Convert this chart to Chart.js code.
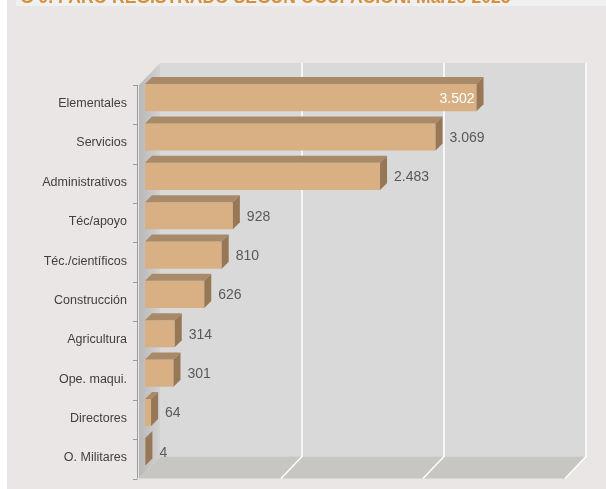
<!DOCTYPE html>
<html>
<head>
<meta charset="utf-8">
<script src="https://cdn.jsdelivr.net/npm/chart.js@4.4.1/dist/chart.umd.min.js"></script>
<style>
  html, body { margin: 0; padding: 0; background: #ffffff; }
  canvas { display: block; }
</style>
</head>
<body>
<canvas id="graficaOcupacion" width="606" height="489"></canvas>
<script>
const titulo = 'G 9. PARO REGISTRADO SEGÚN OCUPACIÓN. Marzo 2025';
const ocupaciones = ['Elementales', 'Servicios', 'Administrativos', 'Téc/apoyo', 'Téc./científicos',
  'Construcción', 'Agricultura', 'Ope. maqui.', 'Directores', 'O. Militares'];
const parados = [3502, 3069, 2483, 928, 810, 626, 314, 301, 64, 4];
const marcasEje = [0, 1500, 3000, 4500];

// profundidad del efecto 3D
const FRENTE = { dx: -6, dy: 7 };
const FONDO = { dx: 15, dy: -15 };
const PROF = 7;

function formatoES(v) {
  return v.toLocaleString('de-DE');
}

const fondo3d = {
  id: 'fondo3d',
  beforeDraw(chart) {
    const { ctx, width, height } = chart;
    ctx.save();
    ctx.fillStyle = '#ffffff';
    ctx.fillRect(0, 0, width, height);
    ctx.fillStyle = '#ebe6e6';
    ctx.fillRect(7, 0, width - 7, height);
    // franja del titulo (cortada arriba)
    ctx.fillStyle = '#f0f0f0';
    ctx.fillRect(16, 0, width - 16, 6);
    ctx.fillStyle = '#d4913c';
    ctx.font = 'bold 17.5px "Liberation Sans", Arial, sans-serif';
    ctx.textAlign = 'left';
    ctx.textBaseline = 'alphabetic';
    ctx.fillText(titulo, 20, 2.5, 492);
    ctx.restore();
  },
  beforeDatasetsDraw(chart) {
    const { ctx, chartArea: ca, scales: { x } } = chart;
    const fL = ca.left + FRENTE.dx, fR = ca.right + FRENTE.dx;
    const fT = ca.top + FRENTE.dy, fB = ca.bottom + FRENTE.dy;
    const bL = ca.left + FONDO.dx, bR = ca.right + FONDO.dx;
    const bT = ca.top + FONDO.dy, bB = ca.bottom + FONDO.dy;
    ctx.save();
    // pared del fondo
    ctx.fillStyle = '#d9d9d9';
    ctx.fillRect(bL, bT, bR - bL, bB - bT);
    // pared izquierda
    const g = ctx.createLinearGradient(fL, 0, bL, 0);
    g.addColorStop(0, '#b8b8b8');
    g.addColorStop(1, '#d2d2d2');
    ctx.fillStyle = g;
    ctx.beginPath();
    ctx.moveTo(fL, fT); ctx.lineTo(bL, bT); ctx.lineTo(bL, bB); ctx.lineTo(fL, fB);
    ctx.closePath(); ctx.fill();
    // suelo
    ctx.fillStyle = '#c8c6c3';
    ctx.beginPath();
    ctx.moveTo(fL, fB); ctx.lineTo(fR, fB); ctx.lineTo(bR, bB); ctx.lineTo(bL, bB);
    ctx.closePath(); ctx.fill();
    // lineas de division
    ctx.strokeStyle = '#ffffff';
    ctx.lineWidth = 1.5;
    marcasEje.slice(1).forEach(v => {
      const px = x.getPixelForValue(v);
      ctx.beginPath();
      ctx.moveTo(px + FONDO.dx, bT);
      ctx.lineTo(px + FONDO.dx, bB);
      ctx.lineTo(px + FRENTE.dx, fB);
      ctx.stroke();
    });
    // eje de categorias
    ctx.strokeStyle = '#9a9a9a';
    ctx.lineWidth = 1;
    ctx.beginPath();
    ctx.moveTo(fL - 1.5, fT); ctx.lineTo(fL - 1.5, fB);
    const paso = (fB - fT) / ocupaciones.length;
    for (let i = 0; i <= ocupaciones.length; i++) {
      const py = Math.round(fT + paso * i) + 0.5;
      ctx.moveTo(fL - 6, py); ctx.lineTo(fL - 1.5, py);
    }
    ctx.stroke();
    ctx.restore();
  },
  afterDatasetsDraw(chart) {
    const { ctx } = chart;
    const meta = chart.getDatasetMeta(0);
    ctx.save();
    meta.data.forEach((bar, i) => {
      const { x: x1, y: cy, base: x0, height: h } = bar.getProps(['x', 'y', 'base', 'height'], true);
      const yT = cy - h / 2, yB = cy + h / 2;
      // cara superior
      ctx.fillStyle = '#a88a68';
      ctx.beginPath();
      ctx.moveTo(x0, yT); ctx.lineTo(x1, yT); ctx.lineTo(x1 + PROF, yT - PROF); ctx.lineTo(x0 + PROF, yT - PROF);
      ctx.closePath(); ctx.fill();
      // cara lateral
      ctx.fillStyle = '#977755';
      ctx.beginPath();
      ctx.moveTo(x1, yT); ctx.lineTo(x1 + PROF, yT - PROF); ctx.lineTo(x1 + PROF, yB - PROF); ctx.lineTo(x1, yB);
      ctx.closePath(); ctx.fill();
      // etiqueta de valor
      ctx.font = '14px "Liberation Sans", Arial, sans-serif';
      ctx.textBaseline = 'middle';
      if (i === 0) {
        ctx.fillStyle = '#ffffff';
        ctx.textAlign = 'right';
        ctx.fillText(formatoES(parados[i]), x1 - 2, cy + 1);
      } else {
        ctx.fillStyle = '#595959';
        ctx.textAlign = 'left';
        ctx.fillText(formatoES(parados[i]), x1 + PROF + 7, cy + 1);
      }
    });
    ctx.restore();
  }
};

new Chart(document.getElementById('graficaOcupacion').getContext('2d'), {
  type: 'bar',
  data: {
    labels: ocupaciones,
    datasets: [{
      label: 'Parados',
      data: parados,
      backgroundColor: '#d8b084',
      borderWidth: 0,
      barPercentage: 0.69,
      categoryPercentage: 1
    }]
  },
  options: {
    indexAxis: 'y',
    responsive: false,
    animation: false,
    layout: { padding: { top: 78, right: 35, bottom: 14, left: 0 } },
    plugins: { legend: { display: false }, tooltip: { enabled: false } },
    scales: {
      x: { display: false, min: marcasEje[0], max: marcasEje[marcasEje.length - 1] },
      y: {
        afterFit: (scale) => { scale.width = 145; },
        grid: { display: false },
        border: { display: false },
        ticks: {
          padding: 10,
          labelOffset: 6,
          color: '#404040',
          font: { family: '"Liberation Sans", Arial, sans-serif', size: 12.5 }
        }
      }
    }
  },
  plugins: [fondo3d]
});
</script>
</body>
</html>
